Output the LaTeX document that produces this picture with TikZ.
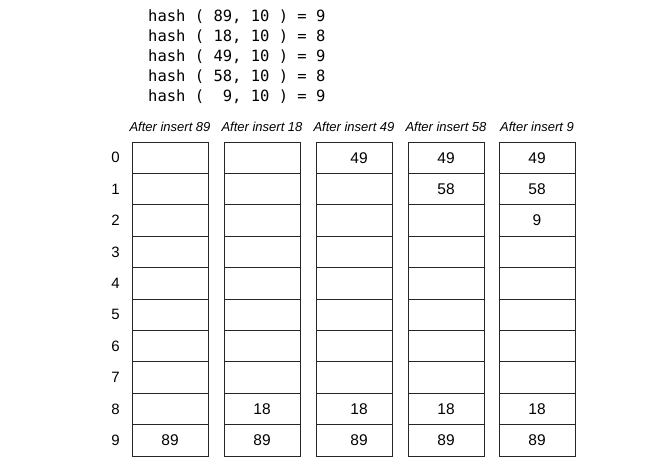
\documentclass[tikz,border=0pt]{standalone}
\usepackage{fontspec}
\setmainfont{Liberation Sans}
\newfontfamily\hashfont{DejaVu Sans Mono}
\begin{document}
\begin{tikzpicture}[x=1pt,y=-1pt,
  cell/.style={draw=black!85, line width=0.8pt, minimum width=76pt, minimum height=31.4pt, inner sep=0pt, outer sep=0pt, anchor=north west},
  val/.style={font=\fontsize{15.5}{17}\selectfont, inner sep=0pt},
  idx/.style={font=\fontsize{15}{17}\selectfont, inner sep=0pt},
  head/.style={font=\fontsize{13}{15}\selectfont\itshape, inner sep=0pt},
  hashline/.style={font=\fontsize{15.5}{18}\selectfont\hashfont, anchor=west, inner sep=0pt}]
\useasboundingbox (0,0) rectangle (658,471);
\fill[white] (0,0) rectangle (658,471);
% hash lines
\node[hashline] (h1) at (148,16.5) {hash ( 89, 10 ) = 9};
\node[hashline] (h2) at (148,36.6) {hash ( 18, 10 ) = 8};
\node[hashline] (h3) at (148,56.7) {hash ( 49, 10 ) = 9};
\node[hashline] (h4) at (148,76.8) {hash ( 58, 10 ) = 8};
\node[hashline] (h5) at (148,96.9) {hash (\ \ 9, 10 ) = 9};
% columns
\foreach \c/\x in {1/132,2/224,3/316,4/408,5/499}{
  \foreach \r in {0,...,9}{
    \node[cell] (c\c-\r) at (\x,{142+31.4*\r}) {};
  }
}
% headers
\node[head] (t1) at (170,127) {After insert 89};
\node[head] (t2) at (262,127) {After insert 18};
\node[head] (t3) at (354,127) {After insert 49};
\node[head] (t4) at (446,127) {After insert 58};
\node[head] (t5) at (537,127) {After insert 9};
% index labels
\foreach \r in {0,...,9}{
  \node[idx] (i\r) at (115.5,{157.7+31.4*\r}) {\r};
}
% values
\node[val] (v1-9) at (170,{157.7+31.4*9}) {89};
\node[val] (v2-8) at (262,{157.7+31.4*8}) {18};
\node[val] (v2-9) at (262,{157.7+31.4*9}) {89};
\node[val] (v3-0) at (359,157.7) {49};
\node[val] (v3-8) at (359,{157.7+31.4*8}) {18};
\node[val] (v3-9) at (359,{157.7+31.4*9}) {89};
\node[val] (v4-0) at (446,157.7) {49};
\node[val] (v4-1) at (446,{157.7+31.4}) {58};
\node[val] (v4-8) at (446,{157.7+31.4*8}) {18};
\node[val] (v4-9) at (446,{157.7+31.4*9}) {89};
\node[val] (v5-0) at (537,157.7) {49};
\node[val] (v5-1) at (537,{157.7+31.4}) {58};
\node[val] (v5-2) at (537,{157.7+31.4*2}) {9};
\node[val] (v5-8) at (537,{157.7+31.4*8}) {18};
\node[val] (v5-9) at (537,{157.7+31.4*9}) {89};
\end{tikzpicture}
\end{document}
